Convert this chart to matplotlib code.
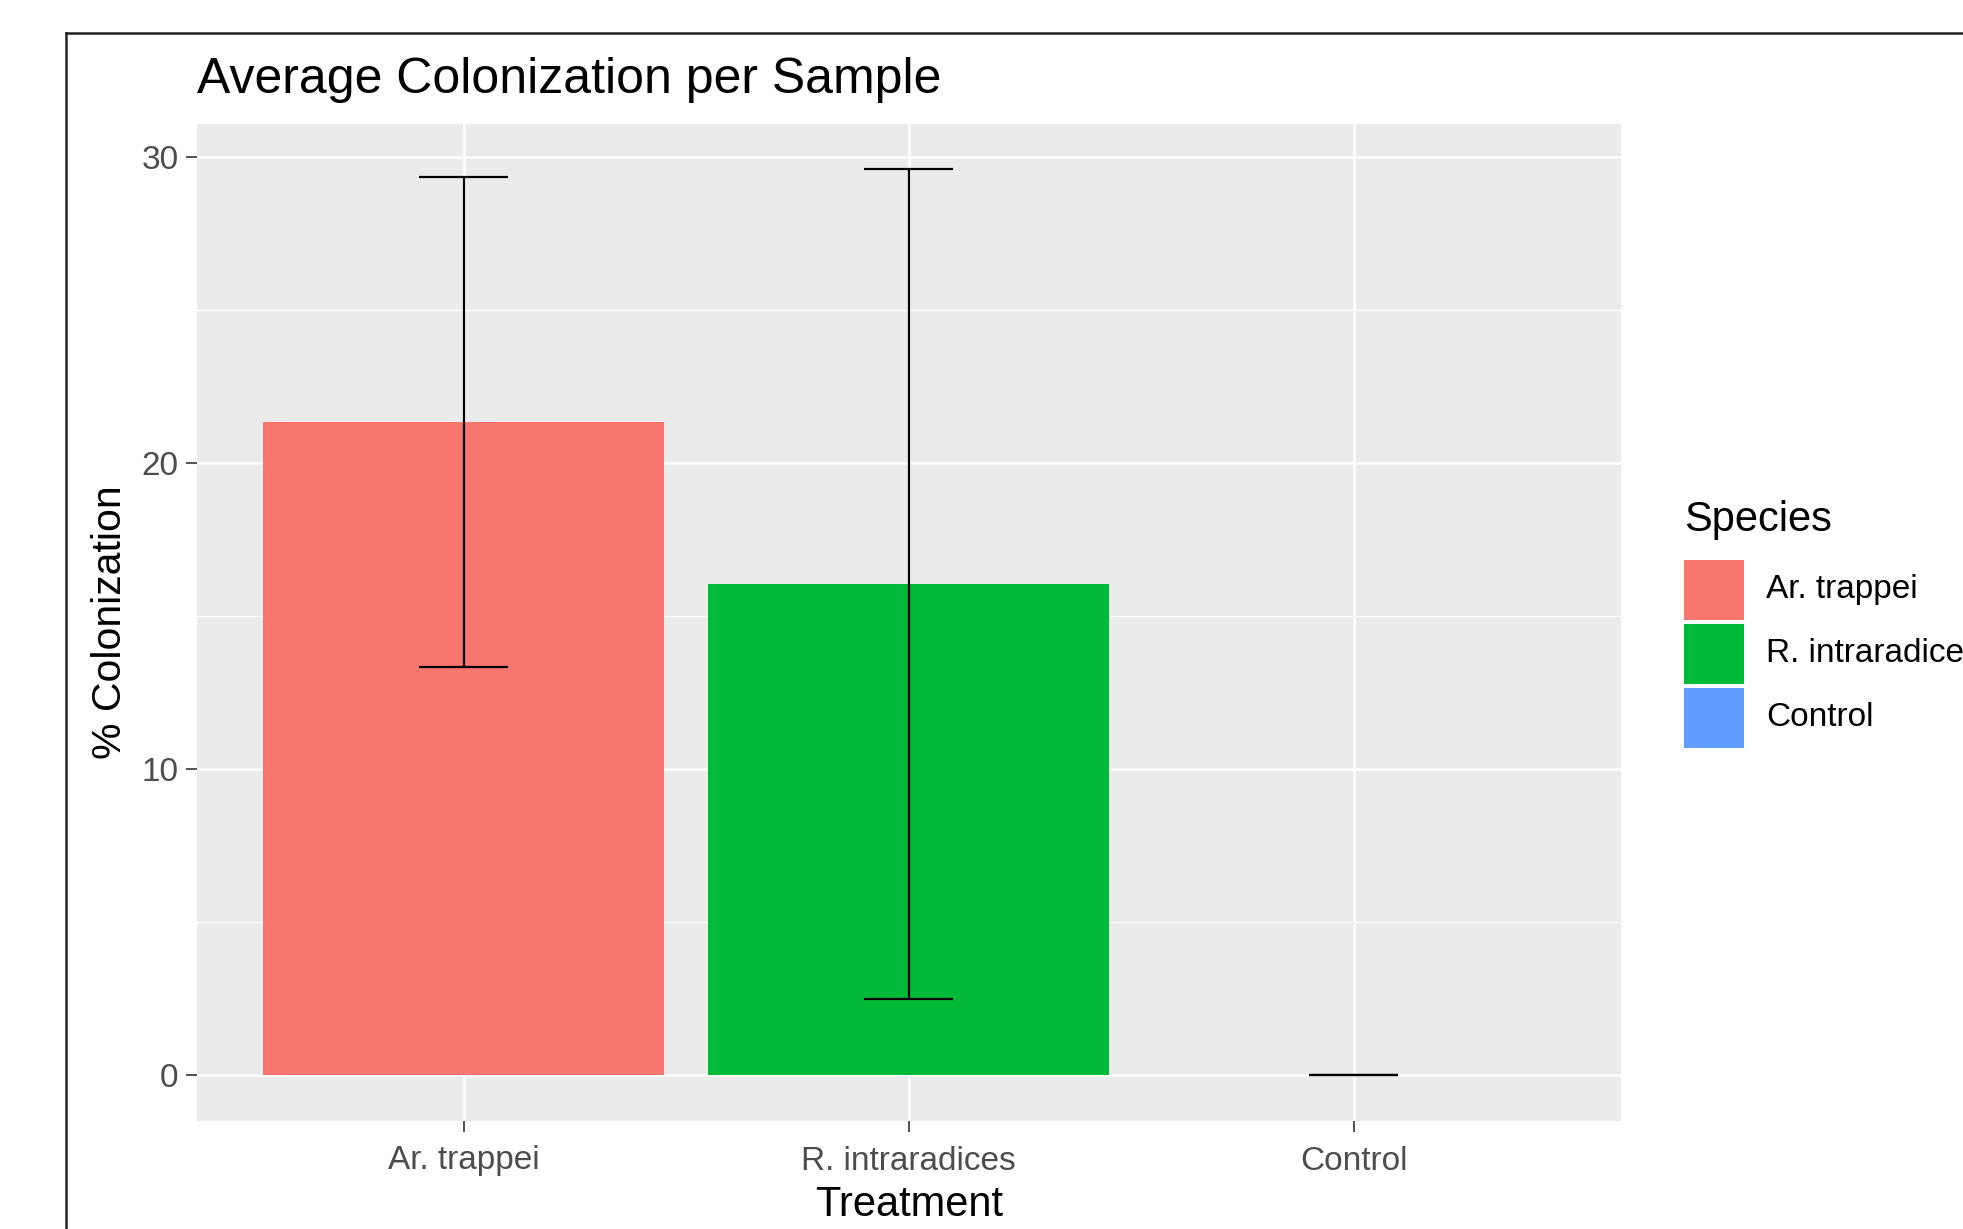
import numpy as np
import matplotlib
matplotlib.use('Agg')
import matplotlib.pyplot as plt
from matplotlib.patches import Rectangle
from matplotlib.lines import Line2D

plt.rcParams['font.family'] = ['Liberation Sans', 'DejaVu Sans']

# data
treatments = ['Ar. trappei', 'R. intraradices', 'Control']
mean_col = [21.35, 16.05, 0.0]
sd_col = [8.0, 13.55, 0.0]
colors = ['#F8766D', '#00BA38', '#619CFF']
y_ticks = [0, 10, 20, 30]

W, H = 1963, 1229
fig = plt.figure(figsize=(W / 100, H / 100), dpi=100)
fig.patch.set_facecolor('white')

# screenshot frame (top and left edges visible)
fig.add_artist(Line2D([66 / W, 1.0], [1 - 33 / H, 1 - 33 / H], transform=fig.transFigure, color='#222222', lw=1.8))
fig.add_artist(Line2D([66 / W, 66 / W], [0.0, 1 - 33 / H], transform=fig.transFigure, color='#222222', lw=1.8))

ax = fig.add_axes([196.6 / W, 1 - 1120.5 / H, (1621 - 196.6) / W, (1120.5 - 124) / H])
ax.set_facecolor('#EBEBEB')
for s in ax.spines.values():
    s.set_visible(False)

x = np.arange(1, len(treatments) + 1)
m = np.array(mean_col)
sd = np.array(sd_col)

# ggplot-style limits: 5% expansion continuous, 0.6 discrete
lo = min(0, (m - sd).min())
hi = max((m + sd).max(), m.max())
pad = 0.05 * (hi - lo)
ax.set_ylim(lo - pad, hi + pad)
ax.set_xlim(0.4, len(treatments) + 0.6)

# grid
for yv in [5, 15, 25]:
    ax.axhline(yv, color='white', lw=0.9, zorder=0)
for yv in y_ticks:
    ax.axhline(yv, color='white', lw=1.8, zorder=0)
for xv in x:
    ax.axvline(xv, color='white', lw=1.8, zorder=0)

ax.bar(x, m, width=0.9, color=colors, zorder=2)

# error bars
ax.vlines(x, m - sd, m + sd, color='black', lw=1.6, zorder=3)
ax.hlines(m - sd, x - 0.1, x + 0.1, color='black', lw=1.6, zorder=3)
ax.hlines(m + sd, x - 0.1, x + 0.1, color='black', lw=1.6, zorder=3)

ax.set_yticks(y_ticks)
ax.set_yticklabels([str(v) for v in y_ticks])
ax.set_xticks(x)
ax.set_xticklabels(treatments)
ax.tick_params(axis='both', colors='#333333', length=8, width=1.2, labelsize=24,
               labelcolor='#4D4D4D')
ax.tick_params(axis='y', pad=5)
ax.tick_params(axis='x', pad=10)

ax.set_xlabel('Treatment', fontsize=30, color='black', labelpad=6)
ax.set_ylabel('% Colonization', fontsize=29.5, color='black', labelpad=9)

fig.text(196.6 / W, 1 - 93 / H, 'Average Colonization per Sample', fontsize=36,
         ha='left', va='baseline', color='black')

# legend drawn ggplot-style: title, square keys, labels
fig.text(1684 / W, 1 - 519.6 / H, 'Species', fontsize=30, ha='left', va='center', color='black')
key_top = 559.6
for i, (lab, c) in enumerate(zip(treatments, colors)):
    top = key_top + i * 64
    fig.add_artist(Rectangle((1684 / W, 1 - (top + 60) / H), 60 / W, 60 / H,
                             transform=fig.transFigure, facecolor=c, edgecolor='none'))
    fig.text(1766 / W, 1 - (top + 30) / H, lab, fontsize=24, ha='left', va='center', color='black')

fig.savefig('out.png', dpi=100)
